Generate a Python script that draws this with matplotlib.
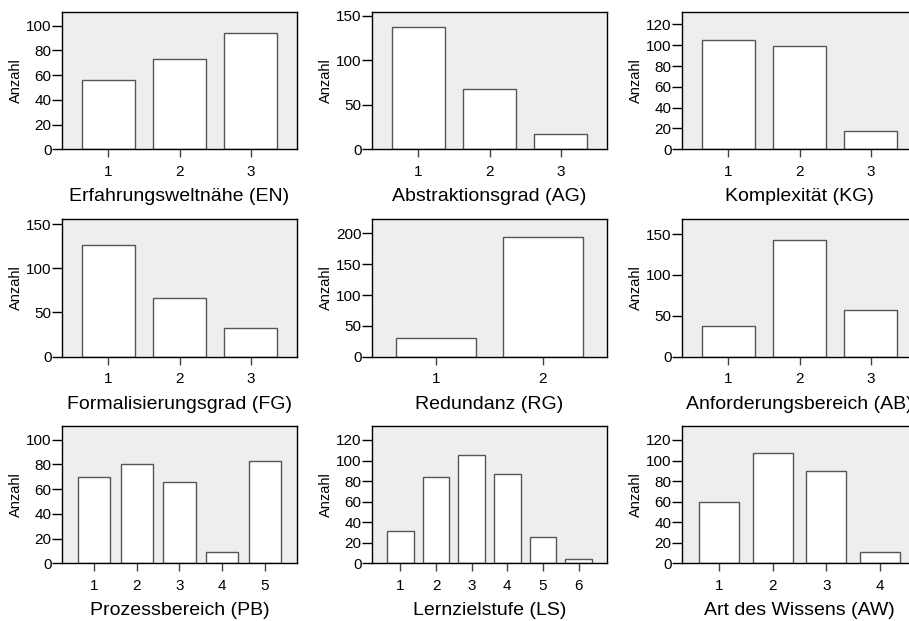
import matplotlib
matplotlib.use("Agg")
import matplotlib.pyplot as plt
from matplotlib.ticker import MultipleLocator

plt.rcParams['font.family'] = ['Liberation Sans', 'DejaVu Sans']

# ---- data ----
labels = ["Erfahrungsweltnähe (EN)", "Abstraktionsgrad (AG)", "Komplexität (KG)",
          "Formalisierungsgrad (FG)", "Redundanz (RG)", "Anforderungsbereich (AB)",
          "Prozessbereich (PB)", "Lernzielstufe (LS)", "Art des Wissens (AW)"]
en = [56, 73, 94]
ag = [138, 68, 17]
kg = [105, 99, 18]
fg = [126, 66, 32]
rg = [31, 194]
ab = [37, 143, 57]
pb = [70, 80, 66, 9, 83]
ls = [31, 84, 105, 87, 26, 4]
aw = [60, 107, 90, 11]
series = [en, ag, kg, fg, rg, ab, pb, ls, aw]
y_max = [111, 154.5, 132, 155.6, 223, 168, 111, 133.6, 133.6]
y_step = [20, 50, 20, 50, 50, 50, 20, 20, 20]

W, H = 909, 621
fig = plt.figure(figsize=(W / 100, H / 100), dpi=100)

col_left = [62, 372, 682]
row_top = [12, 219.3, 426]
aw_px, ah_px = 235, 137.3

for i, vals in enumerate(series):
    r, c = divmod(i, 3)
    left = col_left[c] / W
    bottom = 1 - (row_top[r] + ah_px) / H
    ax = fig.add_axes([left, bottom, aw_px / W, ah_px / H])
    ax.set_facecolor('#eeeeee')
    n = len(vals)
    cats = list(range(1, n + 1))
    ax.bar(cats, vals, width=0.75, color='white', edgecolor='#555555', linewidth=1.0, zorder=2)
    m = 0.5 + 0.05 * n
    ax.set_xlim(1 - m, n + m)
    ax.set_ylim(0, y_max[i])
    ax.set_xticks(cats)
    ax.set_xticklabels([str(k) for k in cats])
    ax.yaxis.set_major_locator(MultipleLocator(y_step[i]))
    for s in ['top', 'right', 'left', 'bottom']:
        ax.spines[s].set_linewidth(1.0)
        ax.spines[s].set_color('black')
    ax.tick_params(axis='x', length=6, width=1.0, color='#444444', pad=5, labelsize=11)
    ax.tick_params(axis='y', length=7, width=1.0, color='black', pad=0.5, labelsize=11)
    ax.set_ylabel("Anzahl", fontsize=10.5, labelpad=2)
    ax.set_xlabel(labels[i], fontsize=14, labelpad=7)

fig.savefig("out.png", dpi=100)
